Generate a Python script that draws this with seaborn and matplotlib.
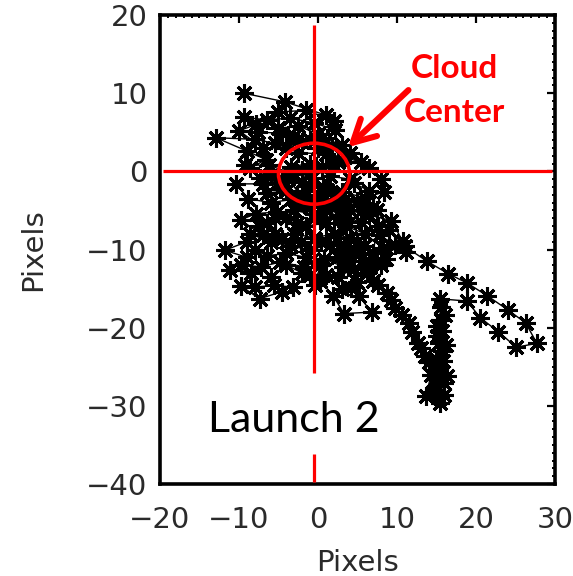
import matplotlib
matplotlib.use("Agg")
import matplotlib.pyplot as plt
from matplotlib.patches import Ellipse
from matplotlib.ticker import MultipleLocator, FixedLocator
import pandas as pd
import seaborn as sns

# Cloud-centroid track, in pixels relative to the cloud center
track_x = [-9.4, -4.2, 1.0, 2.2, -0.5, -3.5, -6.5, -9.4, -7.6, -4.5,
           -2.0, 0.5, 3.0, 5.4, 3.4, 1.0, -2.5, -5.5, -8.0, -12.9,
           -9.0, -6.6, -8.6, -6.0, -3.4, -1.0, 1.5, 4.0, 6.5, 8.0,
           8.4, 6.0, 3.0, 0.6, -2.0, -4.6, -7.0, -10.4, -8.8, -6.0,
           -3.4, -1.0, 1.6, 4.0, 6.5, 9.3, 10.7, 11.2, 8.2, 6.0,
           3.5, 1.0, -1.5, -4.0, -6.5, -8.6, -6.0, -3.4, -1.0, 1.5,
           4.0, 6.0, 7.0, 8.7, 9.8, 11.5, 12.6, 13.5, 14.3, 13.7,
           15.4, 16.0, 15.2, 15.7, 15.1, 15.6, 15.4, 18.9, 20.5, 22.8,
           25.1, 27.7, 26.3, 24.0, 21.4, 18.9, 16.5, 13.8, 11.0, 9.0,
           7.5, 6.5, 4.5, 2.0, -0.5, -3.0, -5.5, -7.5, -9.0, -11.8,
           -9.0, -11.1, -8.5, -9.7, -7.4, -4.6, -6.0, -4.0, -2.0, -0.4,
           0.3, -1.5, -4.0, -6.5, -8.0, -5.5, -3.0, -0.5, 2.0, 4.0,
           2.5, 4.5, 2.5, 0.3, 1.9, 3.3, 6.8, 5.2, 4.2, 6.2,
           8.0, 7.0, 5.0, 3.0, 1.0, -1.5, -4.0, -6.5, -5.0, -2.0,
           0.5, 2.5, 0.0, -3.0, -5.0, -2.5, 0.0, 2.0, -1.5, -5.0,
           -7.8, -10.0, -7.0, -4.0, -1.0, 1.8, 4.0, 2.0, -0.8, -3.6,
           -6.2, -9.2, -7.4, -4.8, -2.6, 0.0, 2.6, 5.0, 7.0, 5.4,
           2.8, 0.2, -2.6, -5.2, -7.8, -9.8, -7.0, -4.6, -2.2, 0.4,
           2.8, 5.2, 3.2, 0.8, -1.8, -4.8, -7.2, -9.8, -8.0, -5.6,
           -3.2, -1.0, 1.0, 3.0, 5.0, 3.6, 5.8, 7.8, 9.8, 8.6,
           6.6, 7.6, 5.6, 3.4, 1.2, -1.2, -3.8, -1.6, 0.8, 3.4,
           6.0, 7.6, 9.2, 10.6, 11.9, 13.0, 14.0, 14.8, 14.6, 15.9,
           16.3, 15.8, 16.2, 15.7, 16.1, 15.6, 15.1, 15.3, 14.9, 15.3,
           15.0, 15.4]
track_y = [10.0, 8.9, 7.2, 5.3, 6.2, 6.8, 6.6, 6.9, 5.0, 4.9,
           3.8, 4.3, 3.4, 1.2, 1.8, 2.2, 2.4, 3.6, 4.1, 4.3,
           2.6, 1.5, 0.4, -0.6, 0.6, 1.0, -0.6, -1.0, 0.4, -1.0,
           -2.6, -3.4, -2.6, -2.0, -1.4, -1.0, -1.6, -1.6, -3.5, -4.0,
           -3.6, -4.6, -4.0, -5.0, -5.6, -6.3, -8.9, -10.3, -9.8, -8.0,
           -7.0, -6.6, -7.0, -6.0, -6.6, -8.0, -9.0, -9.6, -10.0, -9.4,
           -10.0, -11.5, -14.0, -15.5, -17.5, -19.4, -22.0, -23.6, -26.0, -28.7,
           -29.6, -27.1, -25.0, -23.0, -21.0, -19.0, -16.3, -16.6, -18.7, -20.5,
           -22.5, -22.0, -19.4, -17.7, -15.9, -14.3, -13.1, -11.5, -9.6, -7.5,
           -5.0, -2.5, -1.5, -3.0, -5.5, -5.0, -6.0, -7.0, -9.0, -10.1,
           -11.0, -12.6, -13.0, -14.7, -16.3, -15.4, -13.5, -12.0, -13.0, -14.5,
           -12.0, -11.0, -10.5, -10.8, -10.0, -8.0, -8.0, -8.5, -8.0, -8.5,
           -11.0, -12.5, -13.5, -14.0, -15.9, -18.2, -18.0, -16.0, -14.9, -13.0,
           -12.0, -10.5, -9.0, -6.0, -5.0, -2.5, -2.5, -2.8, -1.5, 0.2,
           0.5, 1.2, 3.0, 4.5, 5.5, 5.8, 4.8, 6.5, 7.8, 7.6,
           6.0, 5.2, 3.0, 3.0, 4.0, 3.2, 2.4, 0.8, -0.8, -0.2,
           0.8, 0.8, -0.8, -2.2, -3.2, -3.0, -4.2, -3.8, -4.5, -6.5,
           -5.6, -6.0, -6.6, -5.2, -5.4, -6.2, -8.2, -8.6, -9.0, -9.0,
           -9.4, -10.6, -12.2, -11.2, -12.2, -11.6, -12.2, -12.0, -14.8, -14.6,
           -14.8, -13.2, -13.2, -15.0, -14.2, -11.0, -9.6, -8.2, -9.4, -11.2,
           -12.2, -7.0, -5.0, -3.6, -2.4, -1.8, -1.0, -3.8, -4.4, -6.0,
           -12.4, -14.6, -16.4, -18.4, -20.6, -22.6, -24.4, -26.6, -28.2, -28.6,
           -26.2, -24.2, -22.2, -20.4, -18.4, -17.4, -19.8, -22.0, -24.0, -26.0,
           -28.0, -29.0]

x_ticks = [-20, -10, 0, 10, 20, 30]
y_ticks = [-40, -30, -20, -10, 0, 10, 20]

# Cloud center marker: crosshair and ellipse
center_x, center_y = -0.5, -0.3
ellipse_w, ellipse_h = 9.0, 7.8
vline_segments = [(18.7, -25.8), (-36.1, -39.8)]
hline_span = (-19.6, 29.6)

sns.set_style("white")
plt.rcParams["font.family"] = ["DejaVu Sans"]

fig = plt.figure(figsize=(5.73, 5.76), dpi=100)
ax = fig.add_axes([0.2792, 0.1597, 0.6894, 0.8142])

track = pd.DataFrame({"x": track_x, "y": track_y, "step": range(len(track_x))})
sns.lineplot(data=track, x="x", y="y", sort=False, estimator=None, ax=ax,
             color="black", linewidth=1.0, marker=(8, 2, 0), markersize=13.5,
             markeredgewidth=2.2, markeredgecolor="black", zorder=2)

# crosshair through the cloud center
red = "#ff0000"
for y0, y1 in vline_segments:
    ax.plot([center_x, center_x], [y0, y1], color=red, lw=2.3,
            solid_capstyle="butt", zorder=4)
ax.plot(list(hline_span), [0, 0], color=red, lw=2.3, solid_capstyle="butt", zorder=4)
ax.add_patch(Ellipse((center_x, center_y), ellipse_w, ellipse_h, fill=False,
                     edgecolor=red, lw=2.6, zorder=5))

ax.annotate("", xy=(3.8, 3.1), xytext=(11.45, 10.4),
            arrowprops=dict(arrowstyle="->,head_length=1.6,head_width=0.85",
                            color=red, lw=4.4, shrinkA=0, shrinkB=0),
            zorder=6)
ax.text(17.3, 11.9, "Cloud", color=red, fontsize=24, fontweight="bold",
        family=["Lato", "DejaVu Sans"], ha="center", va="baseline", zorder=6)
ax.text(17.3, 6.3, "Center", color=red, fontsize=24, fontweight="bold",
        family=["Lato", "DejaVu Sans"], ha="center", va="baseline", zorder=6)
ax.text(-13.9, -33.3, "Launch 2", color="black", fontsize=31,
        family=["Lato", "DejaVu Sans"], ha="left", va="baseline", zorder=6)

ax.set_xlim(-20, 30)
ax.set_ylim(-40, 20)
ax.xaxis.set_major_locator(FixedLocator(x_ticks))
ax.yaxis.set_major_locator(FixedLocator(y_ticks))
ax.xaxis.set_minor_locator(MultipleLocator(1))
ax.yaxis.set_minor_locator(MultipleLocator(1))
ax.set_xticklabels([str(v).replace("-", "\u2212") for v in x_ticks])
ax.set_yticklabels([str(v).replace("-", "\u2212") for v in y_ticks])

tick_color = "#2a2a2a"
ax.tick_params(which="both", direction="in", top=True, right=True,
               color="black", labelcolor=tick_color, labelsize=21)
ax.tick_params(which="major", length=5.5, width=1.6)
ax.tick_params(which="minor", length=2.2, width=1.4)
ax.tick_params(axis="x", which="major", pad=16)
ax.tick_params(axis="y", which="major", pad=9)

for sp in ax.spines.values():
    sp.set_visible(True)
    sp.set_linewidth(2.6)
    sp.set_color("black")

ax.set_xlabel("Pixels", fontsize=21, color=tick_color)
ax.set_ylabel("Pixels", fontsize=21, color=tick_color)
ax.xaxis.set_label_coords(0.5, -0.185)
ax.xaxis.label.set_va("baseline")
ax.yaxis.set_label_coords(-0.285, 0.5)

fig.savefig("out.png", dpi=100)
